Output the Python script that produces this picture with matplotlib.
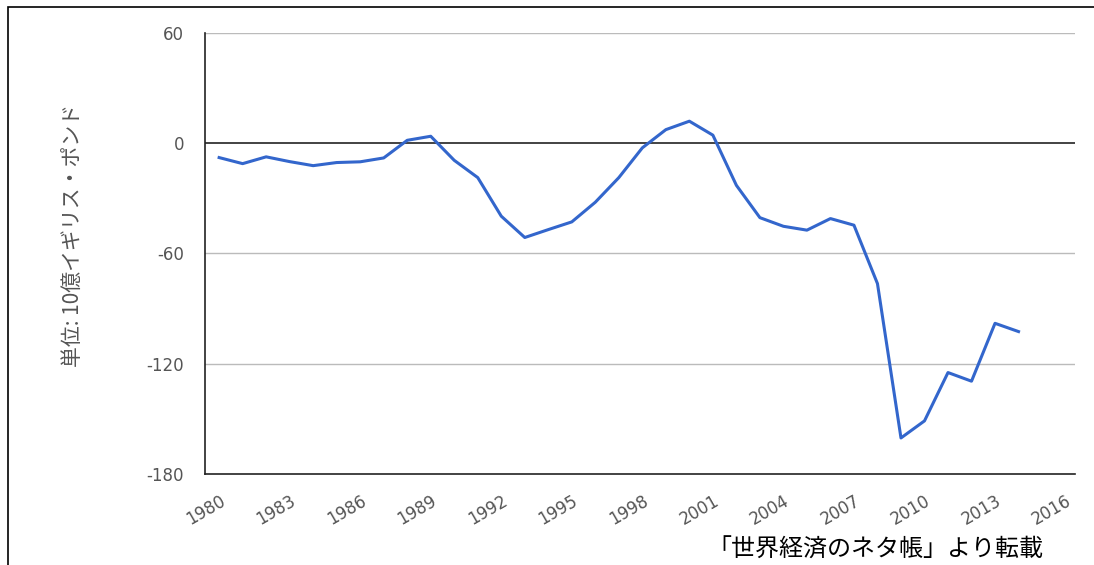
import matplotlib.pyplot as plt
from matplotlib.patches import Rectangle

plt.rcParams['font.family'] = ['Noto Sans CJK JP', 'DejaVu Sans']

years = list(range(1980, 2015))
balance = [-7.8, -11.1, -7.4, -10.0, -12.2, -10.5, -10.1, -8.0, 1.6, 3.8,
           -9.3, -18.7, -39.7, -51.3, -47.0, -42.8, -32.1, -18.7, -2.5, 7.4,
           12.0, 4.4, -22.9, -40.5, -45.2, -47.3, -41.0, -44.6, -76.4, -160.4,
           -151.1, -124.8, -129.5, -98.0, -102.5]

x_ticks = list(range(1980, 2017, 3))
y_ticks = [-180, -120, -60, 0, 60]
y_label = '単位: 10億イギリス・ポンド'
source = '「世界経済のネタ帳」より転載'


def plot_balance():
    fig = plt.figure(figsize=(10.94, 5.65), dpi=100)
    ax = fig.add_axes([0.1874, 0.1611, 0.7952, 0.7805])

    # outer frame (cut off at right and bottom in the original)
    fig.patches.append(Rectangle((8 / 1094, -0.1), 1.2, 1 - 7 / 565 + 0.1,
                                 transform=fig.transFigure, fill=False,
                                 edgecolor='black', linewidth=1.2))

    for y in y_ticks:
        if y == 0:
            ax.axhline(y, color='#222222', linewidth=1.2, zorder=1)
        elif y != -180:
            ax.axhline(y, color='#bbbbbb', linewidth=1.0, zorder=1)

    ax.plot(years, balance, color='#3366cc', linewidth=2.2, zorder=3)

    ax.set_xlim(1979.4, 2016.4)
    ax.set_ylim(-180, 60)
    ax.set_xticks(x_ticks)
    ax.set_yticks(y_ticks)
    ax.set_xticklabels([str(t) for t in x_ticks], rotation=30, ha='right',
                       rotation_mode='anchor', color='#555555', fontsize=12,
                       family='DejaVu Sans')
    ax.set_yticklabels([str(t) for t in y_ticks], color='#555555', fontsize=12,
                       family='DejaVu Sans')
    ax.tick_params(axis='both', length=0)
    ax.tick_params(axis='x', pad=13)
    ax.tick_params(axis='y', pad=15)

    ax.spines['top'].set_visible(False)
    ax.spines['right'].set_visible(False)
    ax.spines['left'].set_color('#222222')
    ax.spines['bottom'].set_color('#222222')
    ax.spines['left'].set_linewidth(1.2)
    ax.spines['bottom'].set_linewidth(1.2)

    ax.set_ylabel(y_label, color='#555555', fontsize=15)
    ax.yaxis.set_label_coords(-0.138, 0.542)

    fig.text(0.954, 0.027, source, ha='right', va='center', fontsize=17.3,
             color='black')

    fig.savefig('out.png', dpi=100)


if __name__ == "__main__":
    plot_balance()
